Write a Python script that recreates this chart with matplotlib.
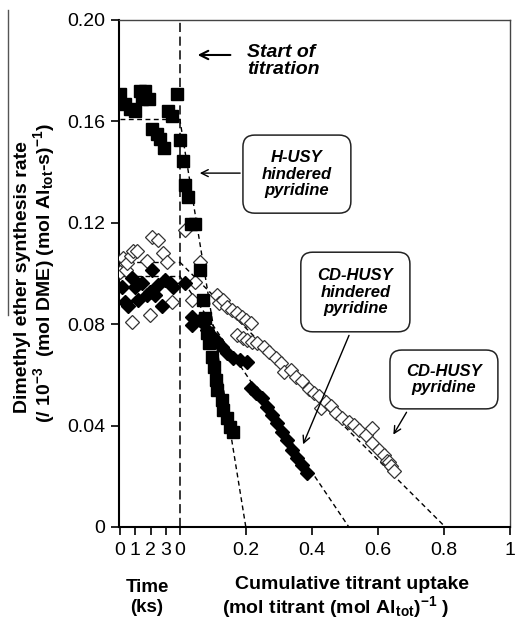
import matplotlib.pyplot as plt
from matplotlib.patches import FancyBboxPatch
from matplotlib.lines import Line2D
import numpy as np

plt.rcParams['font.family'] = ['Liberation Sans', 'DejaVu Sans']
plt.rcParams['mathtext.fontset'] = 'custom'
plt.rcParams['mathtext.rm'] = 'Liberation Sans'
plt.rcParams['mathtext.bf'] = 'Liberation Sans:bold'
plt.rcParams['mathtext.it'] = 'Liberation Sans:italic'

# time axis (ks) is squeezed in front of the titrant-uptake axis
T_START = 3.9      # ks, start of titration
T_SCALE = 0.0463   # uptake units per ks on the shared x axis

# H-USY, hindered pyridine (filled squares)
time_husy = [0.0, 0.33, 0.65, 0.98, 1.30, 1.43, 1.63, 1.90, 2.10, 2.40, 2.60, 2.87, 3.13, 3.40, 3.72]
rate_husy_pre = [0.171, 0.167, 0.165, 0.164, 0.172, 0.169, 0.172, 0.169, 0.157, 0.155, 0.153, 0.1495,
                 0.164, 0.162, 0.171]
uptake_husy = [0.000, 0.009, 0.015, 0.024, 0.033, 0.045, 0.060, 0.069, 0.075, 0.081, 0.090, 0.099,
               0.105, 0.111, 0.114, 0.127, 0.130, 0.142, 0.151, 0.160]
rate_husy = [0.1527, 0.1444, 0.1349, 0.1302, 0.1195, 0.1195, 0.1014, 0.0896, 0.0825, 0.0765, 0.0726,
             0.0671, 0.0631, 0.0580, 0.0540, 0.0501, 0.0462, 0.0430, 0.0394, 0.0375]

# CD-HUSY, hindered pyridine (filled diamonds)
time_cdh = [0.13, 0.33, 0.52, 0.78, 0.98, 1.17, 1.43, 1.76, 1.96, 2.09, 2.28, 2.48, 2.74, 2.94, 3.26, 3.46]
rate_cdh_pre = [0.0947, 0.0888, 0.0872, 0.0982, 0.0947, 0.0895, 0.0962, 0.0915, 0.0927, 0.1014, 0.0915,
                0.0955, 0.0872, 0.0974, 0.0962, 0.0947]
uptake_cdh = [0.015, 0.036, 0.036, 0.060, 0.066, 0.081, 0.096, 0.111, 0.127, 0.142, 0.160, 0.181, 0.205,
              0.217, 0.232, 0.250, 0.265, 0.280, 0.295, 0.310, 0.325, 0.340, 0.355, 0.370, 0.386]
rate_cdh = [0.0963, 0.0828, 0.0797, 0.0817, 0.0809, 0.0777, 0.0757, 0.0738, 0.0710, 0.0686, 0.0667,
            0.0659, 0.0651, 0.0548, 0.0529, 0.0509, 0.0473, 0.0442, 0.0410, 0.0375, 0.0343, 0.0304,
            0.0272, 0.0245, 0.0213]

# CD-HUSY, pyridine (open diamonds)
time_cdp = [0.0, 0.2, 0.39, 0.46, 0.72, 0.78, 0.85, 1.11, 1.76, 1.96, 2.09, 2.48, 2.80, 3.07, 3.39]
rate_cdp_pre = [0.1006, 0.106, 0.1014, 0.104, 0.107, 0.081, 0.109, 0.109, 0.105, 0.0836, 0.1144, 0.1132,
                0.108, 0.1045, 0.0888]
uptake_cdp = [0.015, 0.036, 0.045, 0.060, 0.114, 0.120, 0.130, 0.142, 0.157, 0.172, 0.172, 0.187, 0.190,
              0.202, 0.205, 0.217, 0.220, 0.235, 0.256, 0.271, 0.292, 0.307, 0.316, 0.337, 0.352, 0.370,
              0.392, 0.407, 0.422, 0.428, 0.443, 0.458, 0.473, 0.491, 0.512, 0.527, 0.542, 0.563, 0.581,
              0.581, 0.602, 0.617, 0.627, 0.633, 0.639, 0.648]
rate_cdp = [0.117, 0.0895, 0.0967, 0.1045, 0.0915, 0.0884, 0.0895, 0.0868, 0.0856, 0.0844, 0.0757, 0.0828,
            0.0746, 0.0817, 0.0738, 0.0805, 0.0730, 0.0726, 0.0710, 0.0690, 0.0668, 0.0645, 0.0610, 0.0618,
            0.0590, 0.0575, 0.0545, 0.0530, 0.0515, 0.0470, 0.0492, 0.0478, 0.0450, 0.0430, 0.0415, 0.0402,
            0.0382, 0.0362, 0.0330, 0.0390, 0.0305, 0.0285, 0.0262, 0.0255, 0.0240, 0.0222]

# dashed fits: initial rate level and extrapolated uptake at zero rate
fit_levels = [0.161, 0.099, 0.1045]
fit_intercepts = [0.2, 0.512, 0.804]

time_ticks = [0, 1, 2, 3]
uptake_ticks = [0, 0.2, 0.4, 0.6, 0.8, 1.0]
uptake_labels = ['0', '0.2', '0.4', '0.6', '0.8', '1']
y_ticks = [0, 0.04, 0.08, 0.12, 0.16, 0.20]
y_labels = ['0', '0.04', '0.08', '0.12', '0.16', '0.20']


def to_x(t):
    return (np.asarray(t) - T_START) * T_SCALE


fig = plt.figure(figsize=(5.18, 6.23), dpi=100)
ax = fig.add_axes([0.2297, 0.1541, 0.7549, 0.8138])

# fit lines
for level, icpt in zip(fit_levels, fit_intercepts):
    ax.plot([to_x(0), 0], [level, level], color='black', lw=1.0, ls=(0, (3.5, 2.5)), zorder=2)
    ax.plot([0, icpt], [level, 0], color='black', lw=1.0, ls=(0, (3.5, 2.5)), zorder=2)
ax.axvline(0, color='black', lw=1.1, ls=(0, (6, 3)), zorder=2)

# open diamonds
ax.plot(to_x(time_cdp), rate_cdp_pre, 'D', ms=7.3, mfc='white', mec='#333333', mew=0.9, ls='none', zorder=3)
ax.plot(uptake_cdp, rate_cdp, 'D', ms=7.3, mfc='white', mec='#333333', mew=0.9, ls='none', zorder=3)
# filled diamonds
ax.plot(to_x(time_cdh), rate_cdh_pre, 'D', ms=7.3, color='black', ls='none', zorder=4)
ax.plot(uptake_cdh, rate_cdh, 'D', ms=7.3, color='black', ls='none', zorder=4)
# filled squares
ax.plot(to_x(time_husy), rate_husy_pre, 's', ms=8.3, color='black', ls='none', zorder=5)
ax.plot(uptake_husy, rate_husy, 's', ms=8.3, color='black', ls='none', zorder=5)

ax.set_xlim(-0.184, 1.0)
ax.set_ylim(0, 0.20)
xt = list(to_x(time_ticks)) + uptake_ticks
ax.set_xticks(xt)
ax.set_xticklabels([str(t) for t in time_ticks] + uptake_labels)
ax.set_yticks(y_ticks)
ax.set_yticklabels(y_labels)
ax.tick_params(axis='both', direction='out', length=6, width=1.2, labelsize=14, colors='black')
ax.tick_params(axis='x', pad=5)
ax.tick_params(axis='y', pad=4)
for side in ['left', 'bottom']:
    ax.spines[side].set_linewidth(1.5)
for side in ['top', 'right']:
    ax.spines[side].set_linewidth(1.0)
    ax.spines[side].set_color('#444444')

# annotations
ax.annotate('', xy=(0.194, 0.931), xytext=(0.292, 0.931), xycoords='axes fraction',
            arrowprops=dict(arrowstyle='->,head_length=0.6,head_width=0.3', lw=1.5, color='black'))
ax.text(0.327, 0.919, 'Start of\ntitration', transform=ax.transAxes, ha='left', va='center',
        fontsize=14, fontweight='bold', fontstyle='italic', linespacing=1.05)

boxes = [
    ((0.317, 0.619, 0.276, 0.154), 'H-USY\nhindered\npyridine', (0.317, 0.698), (0.1995, 0.698)),
    ((0.465, 0.385, 0.279, 0.157), 'CD-HUSY\nhindered\npyridine', (0.591, 0.383), (0.468, 0.158)),
    ((0.693, 0.233, 0.276, 0.116), 'CD-HUSY\npyridine', (0.739, 0.231), (0.698, 0.1775)),
]
for (bx, by, bw, bh), label, tail, head in boxes:
    ax.add_patch(FancyBboxPatch((bx, by), bw, bh, boxstyle='round,pad=0,rounding_size=0.03',
                                transform=ax.transAxes, fc='white', ec='#222222', lw=1.1, zorder=6,
                                mutation_aspect=0.77))
    ax.text(bx + bw / 2, by + bh / 2, label, transform=ax.transAxes, ha='center', va='center',
            fontsize=12, fontweight='bold', fontstyle='italic', linespacing=1.12, zorder=7)
    ax.annotate('', xy=head, xytext=tail, xycoords='axes fraction',
                arrowprops=dict(arrowstyle='->,head_length=0.5,head_width=0.25', lw=1.0, color='black'),
                zorder=7)

# axis titles
fig.text(0.2838, 0.0562, 'Time', ha='center', va='center', fontsize=13.5, fontweight='bold')
fig.text(0.2838, 0.0241, '(ks)', ha='center', va='center', fontsize=13.5, fontweight='bold')
fig.text(0.6795, 0.0610, 'Cumulative titrant uptake', ha='center', va='center', fontsize=14,
         fontweight='bold')
fig.text(0.6486, 0.0257, r'(mol titrant (mol Al$_{\mathbf{tot}}$)$^{\mathbf{-1}}$ )', ha='center',
         va='center', fontsize=14, fontweight='bold')
fig.text(0.0444, 0.5554, 'Dimethyl ether synthesis rate', rotation=90, ha='center', va='center',
         fontsize=14, fontweight='bold')
fig.text(0.0850, 0.5618, r'(/ 10$^{\mathbf{-3}}$  (mol DME) (mol Al$_{\mathbf{tot}}$-s)$^{\mathbf{-1}}$)',
         rotation=90, ha='center', va='center', fontsize=14, fontweight='bold')
fig.add_artist(Line2D([0.0154, 0.0154], [0.984, 0.494], transform=fig.transFigure, color='#555555', lw=1.0))

fig.savefig('out.png', dpi=100)
